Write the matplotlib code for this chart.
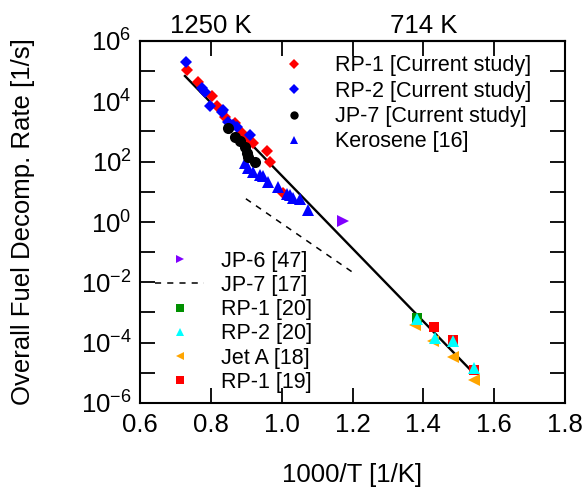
import numpy as np
import matplotlib.pyplot as plt
from matplotlib.lines import Line2D

plt.rcParams['font.family'] = ['Liberation Sans', 'DejaVu Sans']
plt.rcParams['mathtext.fontset'] = 'custom'
plt.rcParams['mathtext.rm'] = 'Liberation Sans'
plt.rcParams['mathtext.it'] = 'Liberation Sans:italic'

# current study data, x = 1000/T [1/K], y = log10(k [1/s])
rp1_x = [0.732, 0.765, 0.802, 0.817, 0.840, 0.868, 0.887, 0.901, 0.920, 0.958, 0.967, 1.005]
rp1_logk = [5.04, 4.65, 4.19, 3.83, 3.49, 3.27, 2.94, 2.78, 2.61, 2.34, 2.00, 0.96]
rp2_x = [0.730, 0.774, 0.784, 0.798, 0.831, 0.835, 0.849, 0.864, 0.873, 0.911]
rp2_logk = [5.32, 4.43, 4.32, 3.85, 3.66, 3.72, 3.33, 3.22, 3.14, 2.89]
jp7_x = [0.849, 0.868, 0.882, 0.897, 0.901, 0.906, 0.924]
jp7_logk = [3.11, 2.83, 2.67, 2.50, 2.28, 2.17, 2.00]
kero_x = [0.897, 0.906, 0.920, 0.939, 0.948, 0.962, 0.991, 1.014, 1.024, 1.033, 1.052, 1.075]
kero_logk = [1.95, 1.78, 1.67, 1.56, 1.51, 1.34, 1.15, 0.92, 0.90, 0.79, 0.76, 0.40]

# literature data
jp6_x = [1.174]
jp6_logk = [0.02]
rp1_20_x = [1.382]
rp1_20_logk = [-3.18]
rp2_20_x = [1.383, 1.433, 1.485, 1.544]
rp2_20_logk = [-3.22, -3.84, -3.96, -4.84]
jeta_x = [1.377, 1.428, 1.483, 1.542]
jeta_logk = [-3.40, -3.96, -4.47, -5.23]
rp1_19_x = [1.430, 1.485, 1.542]
rp1_19_logk = [-3.48, -3.90, -4.92]

# fitted lines
fit_x = [0.727, 1.532]
fit_logk = [4.84, -4.89]
jp7_17_x = [0.899, 1.202]
jp7_17_logk = [0.77, -1.68]

xticks = [0.6, 0.8, 1.0, 1.2, 1.4, 1.6, 1.8]
yticks = [-6, -4, -2, 0, 2, 4, 6]
top_ticks = [0.8, 1.0, 1.2, 1.4, 1.6]
top_labels = ['1250 K', '', '', '714 K', '']

fig = plt.figure(figsize=(5.86, 4.90), dpi=100)
ax = fig.add_axes([140/586, 1-403/490, 425/586, 362/490])

def p(lk):
    return 10.0**np.array(lk)

ax.plot(fit_x, p(fit_logk), color='black', lw=1.7, zorder=2)
ax.plot(jp7_17_x, p(jp7_17_logk), color='black', lw=1.1, ls=(0, (4, 4)), zorder=2)

ax.plot(rp1_x, p(rp1_logk), 'D', color='#ff0000', ms=6.5, mew=0, zorder=3)
ax.plot(rp2_x, p(rp2_logk), 'D', color='#0000ff', ms=6.5, mew=0, zorder=3)
ax.plot(jp7_x, p(jp7_logk), 'o', color='black', ms=8, mew=0, zorder=4)
ax.plot(kero_x, p(kero_logk), '^', color='#0000ff', ms=8.5, mew=0, zorder=3)
ax.plot(jp6_x, p(jp6_logk), '>', color='#8000ff', ms=8.5, mew=0, zorder=3)
ax.plot(rp1_20_x, p(rp1_20_logk), 's', color='#009000', ms=7, mew=0, zorder=3)
ax.plot(rp1_19_x, p(rp1_19_logk), 's', color='#ff0000', ms=7, mew=0, zorder=3)
ax.plot(jeta_x, p(jeta_logk), '<', color='#ffa500', ms=8.5, mew=0, zorder=4)
ax.plot(rp2_20_x, p(rp2_20_logk), '^', color='#00ffff', ms=8.5, mew=0, zorder=5)

ax.set_yscale('log')
ax.set_xlim(0.6, 1.8)
ax.set_ylim(1e-6, 1e6)
ax.set_xticks(xticks)
ax.set_xticklabels(['%.1f' % v for v in xticks])
ax.set_yticks([10.0**v for v in yticks])
ax.set_yticklabels(['$10^{%d}$' % v for v in yticks])
ax.yaxis.set_minor_locator(plt.FixedLocator([10.0**v for v in range(-6, 7)]))
ax.yaxis.set_minor_formatter(plt.NullFormatter())
ax.tick_params(which='both', direction='in', right=True, labelsize=18.5)
ax.tick_params(axis='x', which='major', length=11, width=1.3, pad=7)
ax.tick_params(axis='y', which='both', length=11, width=1.3, pad=6)
for s in ax.spines.values():
    s.set_linewidth(1.5)

top = ax.secondary_xaxis('top')
top.set_xticks(top_ticks)
top.set_xticklabels(top_labels)
top.tick_params(direction='in', length=11, width=1.3, labelsize=18.5, pad=2)
top.spines['top'].set_linewidth(1.5)

ax.set_xlabel('1000/T [1/K]', fontsize=18.5, labelpad=19)
ax.set_ylabel('Overall Fuel Decomp. Rate [1/s]', fontsize=18.5, labelpad=33)

h1 = [Line2D([], [], ls='none', marker='D', color='#ff0000', ms=5, mew=0),
      Line2D([], [], ls='none', marker='D', color='#0000ff', ms=5, mew=0),
      Line2D([], [], ls='none', marker='o', color='black', ms=6, mew=0),
      Line2D([], [], ls='none', marker='^', color='#0000ff', ms=6, mew=0)]
l1 = ['RP-1 [Current study]', 'RP-2 [Current study]', 'JP-7 [Current study]', 'Kerosene [16]']
leg1 = ax.legend(h1, l1, loc='upper left', bbox_to_anchor=(0.338, 0.96), frameon=False,
                 fontsize=15.5, handlelength=1.0, handletextpad=1.4, labelspacing=0.2,
                 borderpad=0, borderaxespad=0)
ax.add_artist(leg1)

h2 = [Line2D([], [], ls='none', marker='>', color='#8000ff', ms=6, mew=0),
      Line2D([], [], color='black', lw=1.1, ls=(0, (4, 4))),
      Line2D([], [], ls='none', marker='s', color='#009000', ms=6, mew=0),
      Line2D([], [], ls='none', marker='^', color='#00ffff', ms=6, mew=0),
      Line2D([], [], ls='none', marker='<', color='#ffa500', ms=6, mew=0),
      Line2D([], [], ls='none', marker='s', color='#ff0000', ms=6, mew=0)]
l2 = ['JP-6 [47]', 'JP-7 [17]', 'RP-1 [20]', 'RP-2 [20]', 'Jet A [18]', 'RP-1 [19]']
ax.legend(h2, l2, loc='upper left', bbox_to_anchor=(0.035, 0.421), frameon=False,
          fontsize=15.5, handlelength=2.3, handletextpad=0.75, labelspacing=0.15,
          borderpad=0, borderaxespad=0)

fig.savefig('out.png', dpi=100)
